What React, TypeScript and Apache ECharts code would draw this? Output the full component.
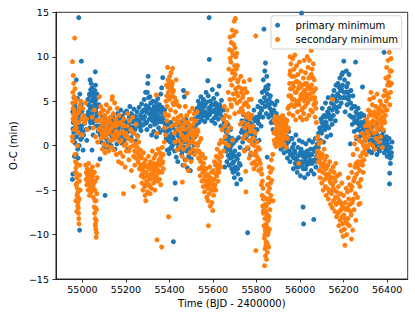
import React, { useEffect, useRef } from "react";
import * as echarts from "echarts";

const xTicks = [55000, 55200, 55400, 55600, 55800, 56000, 56200, 56400];
const yTicks = [-15, -10, -5, 0, 5, 10, 15];
const seriesNames = ["primary minimum", "secondary minimum"];

const primaryEarly: number[][] = [
  [54955,3.8],[54958,2.6],[54960,1.5],[54962,3.2],[54964,4.4],[54966,0.3],[54968,2.0],[54970,3.6],[54972,7.4],[54973,1.0],[54975,2.9],[54977,5.3],[54978,-0.4],[54980,3.3],[54982,4.0],[54983,14.4],[54984,2.4],[54986,1.4],[54987,-9.5],[54988,5.8],[54990,3.0],[54992,0.7],[54995,9.5],[54996,2.2],[54998,3.9],[54954,-3.8],[54956,-3.2],[54963,-1.2],[54970,-1.0],[54980,-1.4],[54985,0.0],[55000,1.6],[55003,-0.5],[55005,1.2],[54967,4.8],[54961,5.4],[54993,4.6],
  [55010,2.5],[55015,1.8],[55020,0.6],[55022,3.4],[55025,5.2],[55028,4.6],[55030,3.0],[55032,5.8],[55035,7.4],[55036,4.2],[55038,6.3],[55040,7.0],[55041,5.0],[55043,3.6],[55045,6.5],[55046,4.4],[55048,2.6],[55050,6.0],[55051,5.3],[55053,4.0],[55055,5.6],[55056,3.2],[55058,4.8],[55059,8.3],[55060,6.8],[55061,3.8],[55062,5.2],[55064,2.2],[55066,4.5],[55068,3.4],[55070,2.8],[55072,1.6],[55075,4.6],[55078,2.2],[55081,-1.5],[55049,1.2],[55033,2.0],[55044,-0.5],
  [55082,1.2],[55085,2.8],[55087,0.4],[55090,2.0],[55092,3.2],[55094,1.0],[55096,-0.3],[55098,2.4],[55100,1.5],[55102,0.2],[55104,-5.6],[55105,2.9],[55108,1.8],[55110,0.8],[55112,2.6],[55115,-0.2],[55117,1.4],[55120,3.0],[55122,2.1],[55125,0.5],[55127,1.7],[55130,2.8],[55132,0.0],[55135,1.1],[55137,2.3],[55140,3.4],[55142,0.7],[55145,1.9],[55148,2.7],[55150,-0.4],[55153,1.3],[55156,2.2],[55158,0.2],
  [55162,3.6],[55165,2.0],[55168,0.8],[55170,3.0],[55173,1.5],[55176,4.0],[55178,2.4],[55180,0.3],[55183,3.3],[55186,1.9],[55189,2.8],[55192,0.6],[55195,3.7],[55198,2.2],[55200,1.2],[55203,3.9],[55206,2.6],[55209,-0.4],[55212,1.6],[55215,3.2],[55218,4.4],[55221,2.0],[55224,0.9],[55227,3.5],[55230,2.7],[55233,1.4],[55236,4.1],[55239,3.0],[55242,1.8],[55245,0.5],[55248,2.5],[55251,3.8],[55254,1.1],[55257,2.9],[55260,4.3],[55263,2.1],[55266,3.4],[55269,1.7],[55272,4.7],[55275,3.1],[55278,2.3],
  [55281,4.0],[55284,5.2],[55286,3.3],[55288,2.5],[55290,6.0],[55292,4.5],[55294,3.8],[55296,1.8],[55298,6.0],[55300,7.0],[55302,7.8],[55304,5.4],[55306,4.2],[55308,3.0],[55310,5.5],[55312,2.2],[55314,4.8],[55316,3.6],[55318,1.2],[55320,4.0],[55322,2.8],[55324,5.0],[55326,3.2],[55328,1.6],[55330,4.4],[55332,2.4],[55334,3.7],[55336,2.9],[55338,4.9],[55340,1.0],[55342,3.4],[55344,2.6],[55346,5.3],[55348,4.1],[55350,2.0],[55352,3.0],[55354,4.6],[55356,1.5],[55358,3.8],[55360,5.8],[55362,2.7],[55364,6.5],[55366,4.3],[55369,7.65],[55370,3.5],[55372,1.8],[55375,2.6],[55378,4.0],
  [55382,2.2],[55385,0.8],[55388,1.6],[55390,-0.5],[55393,2.4],[55396,1.0],[55398,-0.9],[55400,1.8],[55403,0.4],[55406,2.6],[55408,-0.2],[55410,1.3],[55413,0.0],[55416,2.0],[55418,-10.8],[55420,0.7],[55423,-0.6],[55426,-4.2],[55428,1.5],[55429,-6.0],[55431,-1.3],[55434,0.3],[55436,2.3],[55438,-1.8],[55440,1.1],[55443,-0.4],[55446,0.9],[55448,2.5],
];

const primaryMid: number[][] = [
  [55450,0.2],[55453,1.9],[55456,-1.0],[55458,0.6],[55460,2.8],[55462,-2.2],[55464,6.2],[55465,1.4],[55467,-0.2],[55468,5.5],[55470,2.1],[55472,-1.6],[55474,0.9],[55476,3.0],[55478,-0.6],[55480,1.7],[55482,-2.5],[55484,0.4],[55486,2.4],[55488,-1.2],[55490,1.2],[55492,-0.3],[55494,2.0],[55496,-2.8],[55498,0.8],[55500,-1.5],[55503,1.5],[55506,-0.8],[55509,2.2],[55512,0.1],[55515,3.0],[55518,1.0],[55520,3.8],[55523,2.4],
  [55526,4.2],[55529,3.2],[55532,5.0],[55535,2.6],[55538,4.6],[55541,3.6],[55544,5.5],[55547,2.9],[55550,4.0],[55553,3.3],[55556,5.2],[55559,4.4],[55562,2.7],[55565,3.8],[55568,6.0],[55571,4.9],[55574,3.1],[55576,7.3],[55578,5.6],[55580,4.2],[55582,14.4],[55583,9.7],[55585,3.5],[55588,5.0],[55591,4.5],[55594,2.8],[55597,6.3],[55600,3.9],[55603,5.3],[55606,4.0],[55609,2.5],[55612,4.8],[55615,3.4],[55618,5.8],[55621,4.3],[55624,3.0],[55628,6.7],[55630,4.6],[55633,3.6],[55636,2.2],[55639,5.1],[55642,3.2],[55645,1.8],[55648,4.0],[55651,2.6],[55654,-2.4],
  [55656,2.0],[55658,0.8],[55660,-0.6],[55662,1.5],[55664,-1.8],[55666,0.2],[55668,2.4],[55670,-1.1],[55672,1.0],[55674,-2.2],[55676,0.5],[55678,-0.4],[55680,1.8],[55682,-1.4],[55684,0.0],[55686,-2.6],[55688,0.8],[55690,-1.0],[55692,-3.0],[55694,0.3],[55696,-1.8],[55698,-3.6],[55700,-0.6],[55703,-2.4],[55706,0.6],[55709,-4.3],[55712,-1.5],[55715,-3.2],[55718,0.9],[55721,-2.0],[55724,-0.2],[55727,-3.8],[55730,1.5],
  [55733,2.8],[55736,0.4],[55739,3.5],[55742,1.6],[55745,-0.5],[55748,2.4],[55751,0.9],[55754,3.0],[55757,1.2],[55759,-9.8],[55761,-0.3],[55764,2.0],[55767,0.6],[55770,2.6],[55773,-1.0],[55776,1.3],[55779,3.4],[55782,0.2],[55785,2.2],[55788,4.0],[55791,1.0],[55794,2.8],[55797,0.5],
  [55800,3.2],[55803,1.8],[55806,4.4],[55809,2.5],[55812,0.6],[55815,3.6],[55818,5.0],[55821,2.2],[55824,4.0],[55826,6.0],[55829,3.2],[55831,7.4],[55833,-7.3],[55834,13.1],[55836,5.4],[55838,8.4],[55840,4.4],[55841,9.3],[55843,6.6],[55845,3.6],[55847,7.8],[55849,-1.3],[55850,5.8],[55852,4.6],[55854,6.8],[55856,3.2],[55858,5.2],[55861,4.2],[55864,5.6],[55867,2.6],[55870,4.8],[55873,3.4],[55876,1.8],[55879,4.0],
  [55882,2.6],[55885,4.6],[55888,1.4],[55891,3.6],[55894,5.0],[55897,2.2],[55900,0.4],[55903,3.0],[55906,1.6],[55909,2.4],[55912,-0.4],[55915,1.2],[55918,2.8],[55921,0.0],[55924,1.8],[55927,-0.8],[55930,0.8],[55933,2.0],[55936,-0.2],[55939,1.0],[55942,-1.4],[55945,0.4],[55948,1.6],[55951,-0.6],[55954,-1.8],[55957,0.8],[55960,-0.9],
];

const primaryLate: number[][] = [
  [55963,0.8],[55966,-1.2],[55969,-2.6],[55972,0.2],[55975,-0.6],[55978,-2.0],[55981,1.2],[55984,-1.6],[55987,-3.0],[55990,-0.2],[55993,-2.4],[55996,0.6],[55999,-1.0],[56002,-3.4],[56005,-0.4],[56007,14.9],[56008,-1.8],[56011,0.4],[56014,-6.9],[56015,-2.6],[56016,-8.8],[56018,-0.8],[56021,-3.6],[56024,-1.4],[56027,0.2],[56030,-2.2],[56033,-0.6],[56036,-3.2],[56039,-1.2],[56042,0.6],[56045,-2.0],[56048,-0.4],[56051,-2.8],[56054,-1.0],[56057,0.4],[56060,-1.8],[56063,-8.3],[56064,-3.2],[56067,-0.6],[56070,0.8],[56073,-2.4],[56076,-1.2],[56079,0.2],[56082,-0.8],[56085,1.4],[56088,-1.6],
  [56090,2.0],[56093,0.6],[56096,3.0],[56099,1.4],[56102,4.2],[56105,2.2],[56108,0.4],[56111,3.4],[56114,1.8],[56117,4.8],[56120,2.6],[56123,1.0],[56126,3.8],[56129,5.4],[56132,2.0],[56135,4.2],[56138,3.0],[56141,1.2],[56144,4.8],[56147,2.4],[56150,5.6],[56153,3.4],[56156,6.2],[56159,4.4],[56162,2.8],[56165,6.8],[56168,5.0],
  [56171,3.8],[56174,7.0],[56177,5.6],[56180,4.4],[56183,7.6],[56186,6.2],[56189,4.8],[56192,8.0],[56195,6.8],[56198,5.4],[56201,9.5],[56204,7.4],[56207,3.8],[56210,6.0],[56213,8.4],[56216,4.6],[56219,7.0],[56222,5.2],[56225,8.0],[56228,3.4],[56231,0.2],[56234,6.2],[56237,4.2],[56240,2.4],
  [56243,5.6],[56246,3.2],[56249,1.6],[56252,4.4],[56255,9.4],[56256,2.6],[56259,0.8],[56261,3.6],[56264,1.8],[56267,4.2],[56270,2.4],[56273,1.0],[56276,3.2],[56279,1.6],[56282,2.6],[56285,0.4],[56287,6.6],[56290,2.0],[56293,3.4],[56296,1.2],[56299,2.8],[56302,0.6],[56305,1.8],[56308,-0.2],[56311,2.4],[56314,1.0],[56317,-0.6],[56320,1.6],[56323,0.2],[56326,2.0],[56329,-0.8],
  [56332,1.2],[56335,0.4],[56338,2.2],[56341,-0.4],[56344,1.4],[56347,0.0],[56350,2.4],[56353,-1.0],[56356,1.0],[56359,0.2],[56362,1.8],[56365,-0.6],[56368,0.8],[56371,2.0],[56374,-0.2],[56377,1.2],[56380,0.0],[56383,1.6],[56386,10.5],[56387,-0.8],[56391,0.6],[56394,-0.4],[56397,1.0],[56400,-1.2],[56403,0.2],[56406,-0.6],[56409,0.8],[56411,-4.3],[56412,-3.1],[56414,-1.4],[56417,-0.2],[56420,-0.8],[56423,0.4],
];

const primaryFill: number[][] = [
  [54957,1.9],[54965,2.7],[54969,4.2],[54974,1.8],[54979,2.2],[54985,3.6],[54991,1.9],[54997,0.9],[54959,0.6],[54976,3.9],
  [55027,3.8],[55034,5.6],[55039,3.3],[55042,6.0],[55047,5.1],[55052,2.9],[55057,6.2],[55063,4.2],[55067,5.8],[55037,2.6],
  [55084,1.9],[55089,2.8],[55095,1.6],[55101,2.6],[55107,0.9],[55114,1.9],[55119,0.4],[55124,2.4],[55129,1.3],[55134,2.5],[55139,1.5],[55144,2.9],[55149,1.2],[55155,3.0],
  [55167,2.6],[55175,3.0],[55185,1.1],[55194,2.8],[55204,1.9],[55214,2.5],[55223,3.6],[55232,2.1],[55244,3.3],[55256,2.2],[55265,2.6],[55274,3.8],
  [55283,3.0],[55289,4.0],[55295,2.6],[55301,4.4],[55307,3.6],[55313,3.1],[55319,3.4],[55325,4.1],[55331,2.9],[55337,3.9],[55343,4.4],[55349,3.3],[55355,2.8],[55361,4.0],[55367,3.1],[55373,2.9],
  [55384,1.4],[55392,0.6],[55401,-0.4],[55409,0.9],[55417,1.1],[55425,0.3],[55433,1.7],[55441,-0.2],[55447,1.4],
  [55452,1.0],[55459,-0.6],[55466,0.4],[55473,1.5],[55481,0.6],[55489,0.2],[55497,-0.8],[55505,0.6],[55511,1.4],[55517,2.0],
  [55528,3.8],[55534,4.0],[55540,4.4],[55546,3.4],[55552,4.8],[55558,3.6],[55564,4.6],[55570,3.4],[55579,3.6],[55587,4.0],[55593,3.8],[55599,4.6],[55605,3.1],[55611,3.8],[55617,4.4],[55623,3.8],[55629,3.6],[55635,4.0],[55641,4.2],[55647,3.0],
  [55659,-0.2],[55665,1.0],[55671,-0.4],[55677,-1.4],[55683,-0.8],[55689,-2.0],[55695,-1.2],[55701,-2.8],[55707,-1.2],[55713,-2.6],[55719,-1.0],[55725,-2.2],
  [55735,1.8],[55741,2.4],[55747,1.2],[55753,1.9],[55760,2.8],[55766,1.6],[55772,2.0],[55778,2.4],[55784,1.2],[55790,3.0],[55796,1.8],
  [55805,2.8],[55813,3.2],[55820,4.2],[55827,4.8],[55837,6.2],[55844,5.0],[55851,6.4],[55857,4.6],[55863,3.4],[55869,3.8],[55875,2.8],
  [55884,3.4],[55890,2.6],[55896,1.2],[55902,1.8],[55908,0.6],[55914,2.0],[55920,1.0],[55926,0.4],[55932,-0.2],[55938,0.2],[55944,-0.6],[55950,0.6],[55956,-1.0],
  [55965,-0.2],[55971,-1.4],[55977,-0.8],[55983,-2.4],[55989,-1.2],[55995,-1.8],[56001,-0.8],[56007,-2.2],[56013,-1.2],[56019,-1.8],[56025,-2.6],[56031,-1.0],[56037,-1.8],[56043,-1.0],[56049,-1.6],[56055,-2.0],[56061,-0.4],[56066,-1.6],[56072,-0.2],[56078,-1.8],[56084,-0.2],
  [56094,1.8],[56100,2.6],[56106,3.2],[56112,2.6],[56118,3.2],[56124,2.2],[56130,3.6],[56136,3.4],[56142,3.0],[56148,4.0],[56154,4.6],[56160,5.4],[56166,4.2],
  [56172,5.8],[56178,6.6],[56184,5.4],[56190,6.4],[56196,8.2],[56202,6.0],[56208,5.4],[56214,6.6],[56220,6.0],[56226,5.6],[56232,4.8],[56238,3.2],
  [56245,4.4],[56251,2.8],[56257,3.8],[56263,2.8],[56269,3.2],[56275,2.2],[56281,3.6],[56289,1.2],[56295,2.4],[56301,1.6],[56307,1.0],[56313,1.8],[56319,0.6],[56325,1.2],
  [56333,0.6],[56339,1.2],[56345,0.6],[56351,1.4],[56357,-0.4],[56363,1.0],[56369,0.2],[56375,1.0],[56381,0.8],[56388,0.4],[56393,0.0],[56399,0.4],[56405,-0.2],[56410,-1.0],[56415,-2.0],[56419,-1.2],
];

const secondaryEarly: number[][] = [
  [54954,9.45],[54956,6.0],[54958,7.9],[54960,7.0],[54962,5.5],[54964,12.1],[54955,4.8],[54957,4.2],[54959,3.5],[54961,2.8],[54963,1.8],[54953,1.0],[54955,0.5],[54966,6.4],[54968,4.9],[54970,3.1],[54972,2.0],[54966,-1.0],[54968,-1.8],[54970,-2.5],[54972,-3.1],[54974,-3.6],[54975,-4.2],[54976,-4.8],[54978,-5.3],[54979,-5.8],[54980,-6.4],[54981,-7.0],[54982,-7.6],[54983,-8.2],[54984,-8.8],[54986,-4.0],[54988,-2.2],[54990,-5.0],[54970,-6.2],[54974,-7.4],[54987,-3.3],[54985,-6.0],[54977,0.0],[54980,1.5],[54984,3.8],[54988,4.5],[54992,5.0],[54996,3.0],[54998,1.2],
  [55002,4.2],[55006,3.4],[55010,2.6],[55014,4.8],[55018,3.0],[55022,1.8],[55015,-2.2],[55018,-3.0],[55020,-4.4],[55022,-2.6],[55024,-3.6],[55026,-5.0],[55028,-2.0],[55030,-4.0],[55032,-5.6],[55034,-3.2],[55036,-4.6],[55038,-2.8],[55040,-5.2],[55042,-3.8],[55044,-4.8],[55046,-2.4],[55048,-3.4],[55050,-5.8],[55052,-4.2],[55054,-6.9],[55055,-3.0],[55056,-7.6],[55057,-5.0],[55058,-8.2],[55059,-4.0],[55060,-8.8],[55061,-9.4],[55062,-6.2],[55063,-10.3],[55064,-7.2],[55065,-9.8],[55066,-5.4],[55068,-3.6],[55070,-2.2],[55045,3.2],[55050,2.0],[55055,4.0],[55060,1.0],[55065,2.8],[55070,0.4],[55075,1.8],
  [55078,5.5],[55080,3.6],[55082,2.0],[55084,4.4],[55086,0.8],[55088,3.0],[55090,1.4],[55092,-0.4],[55094,2.4],[55096,4.0],[55098,0.2],[55100,1.8],[55102,3.4],[55104,-0.8],[55106,2.6],[55108,1.0],[55110,4.6],[55112,0.0],[55114,2.2],[55116,3.8],[55118,1.4],[55120,-0.6],[55122,2.8],[55124,0.6],[55126,4.2],[55128,1.8],[55130,3.2],[55132,-0.2],[55134,2.0],[55136,5.2],[55138,5.5],[55140,1.2],[55142,3.6],[55144,-0.5],[55146,2.4],[55148,4.8],[55150,0.8],[55152,3.0],[55154,1.6],[55156,-1.0],[55158,2.6],
  [55160,4.2],[55163,1.2],[55166,-1.8],[55168,3.4],[55171,0.4],[55174,-0.8],[55177,2.6],[55180,-2.0],[55183,1.6],[55186,-1.2],[55189,-5.4],[55190,3.0],[55193,0.0],[55196,-2.4],[55199,1.4],[55202,-0.6],[55205,2.2],[55208,3.6],[55210,0.8],[55213,-1.6],[55216,2.8],[55219,-0.2],[55222,1.8],[55225,-2.8],[55228,0.6],[55231,3.2],[55234,-4.6],[55235,-1.2],[55238,1.4],[55241,-2.2],[55244,0.2],[55247,2.4],[55250,-0.8],[55253,1.0],[55256,-1.8],[55259,0.4],[55262,-2.6],[55264,-1.3],
  [55266,-0.5],[55268,-2.2],[55270,-3.4],[55272,-1.4],[55274,-4.2],[55276,-2.8],[55278,-5.0],[55280,-0.8],[55282,-3.6],[55284,-2.0],[55286,-4.6],[55288,-5.6],[55290,-1.6],[55291,-6.2],[55293,-3.0],[55295,-4.0],[55297,-2.4],[55299,-5.2],[55301,-3.4],[55303,-1.2],[55305,-4.4],[55307,-2.6],[55309,-3.8],[55311,-5.4],[55313,-1.8],[55315,-3.2],[55317,-4.8],[55319,-2.2],[55321,-0.6],[55323,-3.6],[55325,-2.0],[55327,-4.2],[55329,-1.4],[55331,-3.0],[55333,-5.0],[55335,-2.4],[55337,-1.0],[55339,5.7],[55340,-3.4],[55342,1.4],[55343,-10.6],[55344,-2.0],[55346,-4.0],[55348,-0.4],[55350,-2.8],[55352,-1.6],[55354,-3.8],[55356,-0.8],[55358,-2.2],[55360,-4.4],[55362,-1.2],[55364,-11.4],[55365,-3.0],[55367,-0.2],[55369,-1.8],[55372,-2.6],
  [55376,0.4],[55378,2.0],[55380,3.6],[55382,1.2],[55384,5.0],[55386,6.8],[55388,2.8],[55389,4.4],[55391,8.8],[55393,7.4],[55395,6.0],[55396,-8.0],[55397,3.4],[55399,5.2],[55401,7.8],[55403,6.4],[55405,4.0],[55407,8.2],[55409,2.2],[55411,5.6],[55413,7.0],[55414,8.7],[55416,4.8],[55418,6.2],[55420,3.0],[55422,1.4],[55424,5.4],[55426,0.4],[55428,3.8],[55430,7.4],[55432,2.4],[55434,-0.5],[55436,4.6],[55438,1.8],[55440,3.2],[55442,0.6],[55444,2.6],[55446,4.4],[55448,-0.2],[55450,1.6],
];

const secondaryMid: number[][] = [
  [55452,3.4],[55454,0.2],[55456,2.0],[55458,-1.2],[55459,-4.1],[55461,1.0],[55463,3.0],[55465,-0.4],[55467,2.4],[55469,-2.2],[55471,0.6],[55473,4.4],[55475,1.8],[55477,-1.6],[55479,3.4],[55481,5.9],[55483,0.0],[55485,2.6],[55487,-2.8],[55489,1.2],[55491,3.8],[55493,-0.8],[55495,2.0],[55497,0.4],[55499,-1.8],[55501,3.0],[55503,1.4],[55505,4.2],[55507,-0.4],[55509,2.4],[55511,0.8],[55513,3.6],[55515,-1.0],[55517,1.8],[55519,0.2],[55521,2.8],[55523,-0.6],[55525,1.2],[55527,3.8],[55529,0.0],
  [55531,1.6],[55533,-1.4],[55535,0.4],[55537,-2.6],[55539,-0.8],[55541,-3.4],[55543,-1.8],[55545,0.8],[55547,-2.4],[55549,-4.0],[55551,-1.0],[55553,-3.0],[55555,-4.6],[55557,-2.0],[55559,-3.8],[55561,-5.2],[55563,-1.4],[55565,-3.4],[55567,-4.4],[55569,-2.6],[55571,-5.8],[55573,-3.2],[55575,-4.8],[55577,-6.2],[55579,-9.0],[55581,-3.8],[55583,-5.4],[55585,-2.4],[55587,-6.8],[55589,-4.2],[55591,-5.0],[55593,-3.0],[55595,-6.4],[55597,-4.6],[55599,-7.3],[55601,-2.8],[55603,-5.6],[55605,-3.8],[55607,-1.8],[55609,-4.4],[55611,-2.2],[55613,-5.0],[55615,-1.2],[55617,-3.4],[55619,-0.4],[55621,-2.6],[55623,-4.0],[55625,-1.4],[55627,-3.0],[55629,0.2],[55631,-1.8],[55633,-0.8],[55635,-2.4],[55637,0.6],[55639,-1.2],
  [55641,1.8],[55644,0.4],[55647,3.0],[55650,-0.6],[55652,4.4],[55654,2.2],[55656,1.0],[55658,3.4],[55660,0.2],[55662,2.6],[55665,4.0],[55668,1.6],[55670,6.0],[55672,0.0],[55673,8.6],[55675,3.2],[55676,10.8],[55677,5.2],[55678,12.2],[55680,7.4],[55681,2.0],[55682,9.4],[55684,11.6],[55685,4.4],[55686,6.8],[55688,13.0],[55689,8.2],[55690,0.6],[55691,10.2],[55693,5.8],[55694,12.4],[55696,7.6],[55697,14.0],[55699,9.0],[55700,3.6],[55701,11.0],[55703,14.3],[55704,6.4],[55706,12.8],[55707,8.6],[55709,10.4],[55711,4.8],[55713,7.2],[55715,5.6],[55718,6.6],[55720,3.8],[55723,5.0],[55726,2.4],
  [55728,7.8],[55730,4.2],[55732,6.4],[55734,2.6],[55736,5.4],[55738,0.8],[55740,3.6],[55742,7.2],[55744,-0.6],[55746,2.0],[55748,4.8],[55750,-2.9],[55751,-5.2],[55752,1.2],[55754,3.2],[55756,6.0],[55758,-0.2],[55760,2.4],[55762,4.4],[55764,0.6],[55766,-1.4],[55768,7.4],[55770,3.0],[55772,1.6],[55774,-0.8],[55776,5.2],[55778,0.2],[55780,-2.0],[55782,2.2],[55784,-1.0],[55786,0.8],[55788,-2.6],[55790,0.0],[55792,-1.8],[55794,1.4],[55796,12.35],[55797,-11.8],[55798,-0.6],[55800,-2.2],[55803,0.4],[55806,-1.4],[55810,-2.8],[55814,-0.4],[55817,-2.0],
  [55820,-2.6],[55822,-4.4],[55824,-3.2],[55826,-5.6],[55828,-6.8],[55830,-4.8],[55832,-7.6],[55834,-9.0],[55835,-5.8],[55836,-10.4],[55837,-13.5],[55838,-8.2],[55839,-11.6],[55840,-6.6],[55841,-12.4],[55842,-9.6],[55843,-7.4],[55844,-10.8],[55845,-8.8],[55846,-12.8],[55847,-6.0],[55848,-9.2],[55849,-11.0],[55850,-4.4],[55851,-7.8],[55852,-10.0],[55853,-5.2],[55854,-8.4],[55855,-3.6],[55856,-11.4],[55857,-6.4],[55858,-2.4],[55859,-9.4],[55860,-4.8],[55862,-7.2],[55864,-3.0],[55866,-5.6],[55868,-1.6],[55870,-3.9],[55872,-2.6],[55874,-1.0],[55876,-6.2],
  [55880,1.4],[55882,2.8],[55884,0.2],[55886,3.3],[55888,1.8],[55890,-0.1],[55892,2.4],[55894,0.8],[55896,3.0],[55898,1.2],[55900,2.2],[55902,0.4],[55904,2.8],[55906,1.6],[55908,3.2],[55910,0.0],[55912,2.0],[55914,1.0],[55916,2.6],[55918,0.6],[55920,3.4],[55922,1.4],[55924,2.2],[55926,0.2],[55928,1.8],[55930,3.0],[55932,1.0],[55934,2.4],[55936,-0.2],[55938,1.6],[55940,2.8],[55942,0.8],[55944,4.2],[55946,2.0],[55948,5.6],[55950,3.6],[55952,7.0],[55954,10.0],[55955,8.4],[55956,6.4],[55958,9.2],[55960,4.6],
];

const secondaryLate: number[][] = [
  [55962,7.8],[55964,5.2],[55966,9.8],[55968,3.4],[55970,6.6],[55972,8.6],[55974,4.4],[55976,10.2],[55978,6.0],[55980,2.9],[55982,7.2],[55984,9.0],[55986,5.0],[55988,3.8],[55990,8.0],[55992,6.4],[55994,-2.0],[55995,4.6],[55997,9.4],[55999,7.0],[56001,3.2],[56003,5.6],[56005,8.4],[56007,4.0],[56009,6.8],[56011,2.9],[56013,5.4],[56015,7.6],[56017,3.6],[56019,9.6],[56021,6.2],[56023,4.4],[56025,8.2],[56027,5.8],[56029,3.0],[56031,7.0],[56033,10.0],[56035,4.8],[56037,8.8],[56039,6.4],[56041,3.4],[56043,9.6],[56045,5.2],[56047,7.8],[56049,4.0],[56051,10.7],[56053,6.8],[56055,8.6],[56057,3.8],[56059,6.0],[56061,9.2],[56063,4.6],[56065,7.4],[56067,5.4],[56069,3.2],[56071,6.4],[56073,4.2],[56075,2.6],
  [56078,0.8],[56080,-0.6],[56082,1.0],[56084,-1.8],[56086,0.2],[56088,-2.8],[56090,-0.8],[56092,-3.6],[56094,-1.4],[56096,0.4],[56098,-2.4],[56100,-4.2],[56102,-1.0],[56104,-3.0],[56106,-5.0],[56108,-2.0],[56110,-0.4],[56112,-3.8],[56114,-1.6],[56116,-4.6],[56118,-2.6],[56120,-5.6],[56122,-1.2],[56124,-3.4],[56126,-4.8],[56128,-2.2],[56130,-6.0],[56132,-3.2],[56134,-5.2],[56136,-1.8],[56138,-4.0],[56140,-6.6],[56142,-2.8],[56144,-5.4],[56146,-3.6],[56148,-7.0],[56149,5.2],[56150,-4.4],[56152,-2.4],[56154,-6.2],[56156,-3.0],[56158,-5.0],[56160,-7.4],[56162,-4.0],[56164,-2.0],
  [56166,-6.6],[56168,-8.0],[56170,-3.4],[56172,-5.8],[56174,-7.6],[56176,-4.6],[56178,-9.0],[56180,-6.2],[56182,-3.2],[56184,-8.4],[56186,-5.4],[56188,-7.2],[56190,-9.6],[56192,-4.2],[56194,-6.8],[56196,-8.8],[56198,-10.2],[56200,-5.6],[56202,-7.8],[56204,-9.4],[56206,-11.2],[56208,-6.4],[56210,-8.6],[56212,-4.8],[56214,-10.0],[56216,-7.0],[56218,-5.2],[56220,-8.2],[56222,-3.6],[56224,-6.0],[56226,-9.0],[56228,-4.4],[56230,-2.2],[56232,-7.4],[56234,-5.0],[56236,-10.5],[56238,-3.0],[56240,-6.4],
  [56242,-9.5],[56244,-1.0],[56246,-4.0],[56248,-7.2],[56250,0.2],[56252,-2.4],[56254,-5.4],[56256,-8.4],[56258,1.0],[56260,-3.2],[56262,-0.4],[56264,-5.8],[56266,-1.8],[56268,-4.2],[56270,-6.6],[56272,0.6],[56274,-2.8],[56276,-6.5],[56278,-1.2],[56280,-3.8],[56282,0.4],[56284,-2.0],[56286,1.4],[56288,-0.8],[56290,-3.0],[56292,0.0],[56294,-1.6],[56296,1.0],[56298,-0.4],[56300,2.2],[56302,0.6],[56304,-1.0],[56306,3.0],[56308,1.6],[56310,-0.2],[56312,2.6],[56314,4.0],[56316,1.2],[56318,3.4],[56320,5.2],[56322,0.2],[56324,2.4],[56326,6.0],[56328,3.6],
  [56330,1.8],[56332,4.6],[56334,0.0],[56336,2.8],[56338,5.4],[56340,1.4],[56342,3.8],[56344,-0.4],[56346,2.2],[56348,4.4],[56350,0.8],[56352,3.2],[56354,5.8],[56356,1.6],[56358,2.8],[56360,4.2],[56362,0.4],[56364,3.6],[56366,2.0],[56368,5.0],[56370,1.0],[56372,3.0],[56374,4.6],[56376,2.4],[56378,-0.2],[56380,3.8],[56382,1.8],[56384,5.6],[56386,2.8],[56388,4.4],[56390,6.2],[56392,3.4],[56394,7.6],[56396,5.0],[56398,8.8],[56400,4.0],[56402,6.8],[56404,9.6],[56406,5.4],[56408,7.8],[56410,10.5],[56412,4.6],[56414,8.4],[56416,6.0],[56418,9.8],[56420,7.0],
];

const secondaryFill: number[][] = [
  [54957,3.0],[54962,4.0],[54967,2.4],[54971,5.2],[54976,3.6],[54981,2.6],[54986,4.2],[54967,-3.0],[54971,-4.4],[54975,-5.6],[54978,-6.8],[54973,-2.0],
  [55017,-3.8],[55021,-3.2],[55025,-4.2],[55029,-3.0],[55033,-4.4],[55037,-3.6],[55041,-4.2],[55045,-3.2],[55049,-4.6],[55053,-3.0],[55057,-6.2],[55061,-7.0],[55063,-8.4],[55059,-9.0],
  [55081,2.8],[55087,3.8],[55093,1.0],[55099,2.8],[55105,1.4],[55111,2.0],[55117,3.0],[55123,1.6],[55129,2.6],[55135,0.6],[55141,2.4],[55147,1.2],[55153,2.2],[55159,1.0],
  [55165,2.4],[55172,1.4],[55179,0.6],[55187,2.2],[55194,1.2],[55201,0.2],[55207,1.0],[55214,-0.6],[55221,0.6],[55227,1.6],[55233,0.0],[55240,-0.6],[55246,-1.4],[55252,-0.2],[55258,-1.0],
  [55269,-1.2],[55275,-3.2],[55281,-2.4],[55287,-3.0],[55292,-4.4],[55298,-3.4],[55304,-2.2],[55310,-4.6],[55316,-2.6],[55322,-2.8],[55328,-3.2],[55334,-3.8],[55340,-2.6],[55347,-2.2],[55353,-3.0],[55359,-1.4],[55366,-2.0],[55371,-1.0],
  [55383,3.4],[55387,5.6],[55392,6.6],[55398,7.0],[55402,5.4],[55406,7.2],[55410,6.6],[55415,6.0],[55419,4.6],[55425,2.4],[55431,5.0],[55437,2.8],
  [55455,1.2],[55462,2.2],[55468,0.8],[55474,2.6],[55480,1.0],[55486,0.6],[55492,2.2],[55498,1.6],[55504,0.4],[55510,1.0],[55516,2.8],[55522,1.4],[55528,1.8],
  [55534,-0.6],[55540,-1.6],[55546,-1.2],[55552,-2.4],[55558,-2.8],[55564,-2.6],[55570,-4.0],[55576,-3.4],[55582,-4.4],[55588,-3.6],[55594,-4.2],[55600,-5.0],[55606,-4.8],[55612,-3.2],[55618,-2.2],[55624,-2.8],[55630,-2.2],[55636,-1.2],
  [55679,9.8],[55683,4.6],[55687,10.6],[55692,8.4],[55695,11.4],[55698,5.2],[55702,8.0],[55705,10.0],[55708,6.0],[55712,9.0],[55716,7.4],
  [55731,6.0],[55735,4.0],[55739,5.8],[55743,4.6],[55747,6.4],[55753,4.8],[55757,2.4],[55763,3.6],[55767,5.2],[55771,2.0],[55777,3.4],[55783,0.8],[55789,1.6],[55795,-1.0],[55801,-1.2],[55808,-0.2],[55812,-1.6],
  [55827,-4.0],[55831,-6.0],[55835,-7.2],[55838,-10.0],[55840,-9.4],[55843,-11.2],[55845,-6.8],[55848,-7.8],[55850,-12.0],[55853,-9.8],[55857,-8.0],[55861,-6.0],[55865,-4.2],
  [55881,0.6],[55885,1.6],[55889,2.6],[55893,1.4],[55897,2.0],[55901,1.2],[55905,2.0],[55909,1.0],[55913,2.8],[55917,1.6],[55921,2.4],[55925,1.0],[55929,2.6],[55933,1.8],[55937,0.8],[55941,1.8],[55949,4.4],[55953,8.0],[55957,5.6],
  [55963,6.4],[55967,7.0],[55971,5.2],[55975,7.8],[55979,4.6],[55983,6.0],[55987,7.2],[55991,4.8],[55996,6.6],[56000,5.2],[56004,6.6],[56008,5.8],[56012,4.2],[56016,6.0],[56020,5.0],[56024,7.0],[56028,6.8],[56032,5.4],[56036,6.6],[56040,7.6],[56044,5.8],[56048,6.4],[56052,8.0],[56056,5.4],[56060,7.6],[56064,6.2],[56068,5.0],[56072,4.8],
  [56081,-1.2],[56087,-1.2],[56093,-2.0],[56099,-1.2],[56105,-2.4],[56111,-2.2],[56117,-3.2],[56123,-2.4],[56129,-3.6],[56135,-3.6],[56141,-4.2],[56147,-5.0],[56153,-4.8],[56159,-3.6],[56163,-5.8],
  [56169,-5.2],[56175,-6.4],[56181,-7.4],[56187,-6.4],[56193,-8.0],[56199,-7.0],[56205,-8.2],[56211,-7.2],[56217,-8.8],[56223,-7.2],[56229,-6.6],[56235,-7.8],[56239,-4.6],
  [56245,-6.0],[56251,-3.6],[56257,-2.0],[56263,-2.4],[56269,-2.2],[56275,-4.6],[56281,-1.8],[56287,-2.2],[56293,-0.8],[56299,0.8],[56305,0.0],[56311,1.0],[56317,2.2],[56323,3.8],[56329,2.6],
  [56335,3.4],[56341,2.6],[56347,3.4],[56353,2.0],[56359,3.8],[56365,2.6],[56371,4.0],[56377,3.2],[56383,3.0],[56389,2.6],[56395,4.0],[56401,5.8],[56407,7.2],[56413,6.8],[56419,8.4],
];

const FONT = "DejaVu Sans";

export default function App() {
  const ref = useRef<HTMLDivElement>(null);
  useEffect(() => {
    if (!ref.current) return;
    const chart = echarts.init(ref.current, null, { renderer: "svg" });
    const primary = [...primaryEarly, ...primaryMid, ...primaryLate, ...primaryFill];
    const secondary = [...secondaryEarly, ...secondaryMid, ...secondaryLate, ...secondaryFill];
    chart.setOption({
      animation: false,
      backgroundColor: "#ffffff",
      textStyle: { fontFamily: FONT },
      grid: { left: 49, right: 7.3, top: 12.3, bottom: 38, show: true, borderColor: "#000", borderWidth: 0.8, backgroundColor: "transparent" },
      legend: {
        orient: "vertical",
        right: 13.3,
        top: 15.7,
        padding: [3.5, 3.7, 3.5, 4],
        itemWidth: 20,
        itemHeight: 5,
        itemGap: 2.3,
        backgroundColor: "rgba(255,255,255,0.8)",
        borderColor: "#cccccc",
        borderWidth: 0.8,
        borderRadius: 3,
        icon: "circle",
        textStyle: { fontFamily: FONT, fontSize: 10, color: "#000", lineHeight: 12, padding: [0, 0, 0, 3] },
        data: seriesNames,
      },
      xAxis: {
        type: "value",
        min: 54878.3,
        max: 56494.6,
        name: "Time (BJD - 2400000)",
        nameLocation: "middle",
        nameGap: 15.5,
        nameTextStyle: { fontFamily: FONT, fontSize: 10, color: "#000" },
        axisLine: { show: true, onZero: false, lineStyle: { color: "#000", width: 0.8 } },
        axisTick: { show: true, inside: false, length: 3.5, lineStyle: { color: "#000", width: 0.8 }, customValues: xTicks },
        axisLabel: { show: true, margin: 5, fontFamily: FONT, fontSize: 9.5, color: "#000", customValues: xTicks, formatter: (v: number) => String(v) },
        splitLine: { show: false },
      },
      yAxis: {
        type: "value",
        min: yTicks[0],
        max: yTicks[yTicks.length - 1],
        interval: 5,
        name: "O-C (min)",
        nameLocation: "middle",
        nameGap: 30,
        nameRotate: 90,
        nameTextStyle: { fontFamily: FONT, fontSize: 10, color: "#000" },
        axisLine: { show: true, onZero: false, lineStyle: { color: "#000", width: 0.8 } },
        axisTick: { show: true, inside: false, length: 3.5, lineStyle: { color: "#000", width: 0.8 } },
        axisLabel: { show: true, margin: 7, fontFamily: FONT, fontSize: 9.5, color: "#000", formatter: (v: number) => (v < 0 ? "\u2212" + Math.abs(v) : String(v)) },
        splitLine: { show: false },
      },
      series: [
        { name: seriesNames[0], type: "scatter", data: primary, symbolSize: 5, itemStyle: { color: "#1f77b4", opacity: 1 } },
        { name: seriesNames[1], type: "scatter", data: secondary, symbolSize: 5, itemStyle: { color: "#ff7f0e", opacity: 1 } },
      ],
    });
    return () => chart.dispose();
  }, []);
  return <div ref={ref} style={{ position: "absolute", left: 0, top: 0, width: 415, height: 317 }} />;
}
